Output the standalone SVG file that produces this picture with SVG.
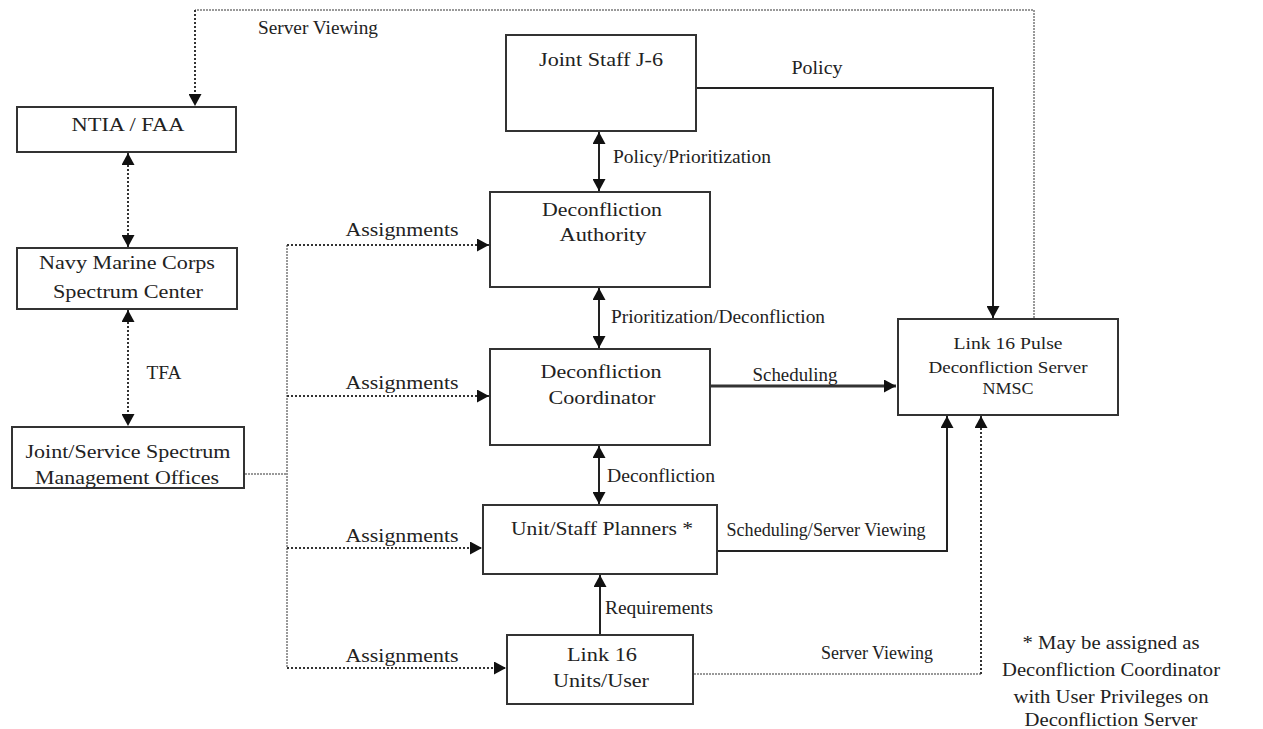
<svg xmlns="http://www.w3.org/2000/svg" width="1263" height="729" viewBox="0 0 1263 729">
<style>
text{font-family:"Liberation Serif","Times New Roman",serif;font-size:18px;fill:#222;text-anchor:middle}
.sm{font-size:16px}
.box{fill:#fff;stroke:#333;stroke-width:2}
.solid{fill:none;stroke:#222;stroke-width:2}
.thick{fill:none;stroke:#333;stroke-width:3}
.dot{fill:none;stroke:#333;stroke-width:2;stroke-dasharray:2 2}
.gdot{fill:none;stroke:#999;stroke-width:2;stroke-dasharray:2 1}
</style>
<defs>
<marker id="ah" markerUnits="userSpaceOnUse" markerWidth="13" markerHeight="13" refX="12" refY="6.5" orient="auto-start-reverse" viewBox="0 0 13 13">
<path d="M0,0 L12,6.5 L0,13 z" fill="#111"/>
</marker>
</defs>
<rect width="1263" height="729" fill="#fff"/>

<g id="connectors">
<path class="gdot" d="M1034,318 V10 H195"/>
<path class="dot" d="M195,10 V106" marker-end="url(#ah)"/>
<text x="318" y="34" textLength="120" lengthAdjust="spacingAndGlyphs">Server Viewing</text>
<path class="dot" d="M128,153 V247" marker-start="url(#ah)" marker-end="url(#ah)"/>
<path class="dot" d="M128,310 V426" marker-start="url(#ah)" marker-end="url(#ah)"/>
<text x="164" y="379" textLength="35" lengthAdjust="spacingAndGlyphs">TFA</text>
<path class="gdot" d="M245,474 H287"/>
<path class="gdot" d="M287,245 V668"/>
<path class="dot" d="M287,245 H489" marker-end="url(#ah)"/>
<path class="dot" d="M287,396 H489" marker-end="url(#ah)"/>
<path class="dot" d="M287,548 H482" marker-end="url(#ah)"/>
<path class="dot" d="M287,668 H506" marker-end="url(#ah)"/>
<text x="402" y="236" textLength="113" lengthAdjust="spacingAndGlyphs">Assignments</text>
<text x="402" y="389" textLength="113" lengthAdjust="spacingAndGlyphs">Assignments</text>
<text x="402" y="542" textLength="113" lengthAdjust="spacingAndGlyphs">Assignments</text>
<text x="402" y="662" textLength="113" lengthAdjust="spacingAndGlyphs">Assignments</text>
<path class="solid" d="M697,88 H993 V318" marker-end="url(#ah)"/>
<text x="817" y="74" textLength="51" lengthAdjust="spacingAndGlyphs">Policy</text>
<path class="solid" d="M599,132 V191" marker-start="url(#ah)" marker-end="url(#ah)"/>
<text x="692" y="163" textLength="158" lengthAdjust="spacingAndGlyphs">Policy/Prioritization</text>
<path class="solid" d="M599,288 V348" marker-start="url(#ah)" marker-end="url(#ah)"/>
<text x="718" y="323" textLength="214" lengthAdjust="spacingAndGlyphs">Prioritization/Deconfliction</text>
<path class="thick" d="M711,386 H896" marker-end="url(#ah)"/>
<text x="795" y="381" textLength="85" lengthAdjust="spacingAndGlyphs">Scheduling</text>
<path class="solid" d="M599,446 V504" marker-start="url(#ah)" marker-end="url(#ah)"/>
<text x="661" y="482" textLength="108" lengthAdjust="spacingAndGlyphs">Deconfliction</text>
<path class="solid" d="M600,634 V575" marker-end="url(#ah)"/>
<text x="659" y="614" textLength="108" lengthAdjust="spacingAndGlyphs">Requirements</text>
<path class="solid" d="M718,551 H947 V416" marker-end="url(#ah)"/>
<text x="826" y="536" textLength="199" lengthAdjust="spacingAndGlyphs">Scheduling/Server Viewing</text>
<path class="gdot" d="M694,674 H981"/>
<path class="dot" d="M981,674 V416" marker-end="url(#ah)"/>
<text x="877" y="659" textLength="112" lengthAdjust="spacingAndGlyphs">Server Viewing</text>
</g>

<g id="ntia">
<rect class="box" x="17" y="107" width="219" height="45"/>
<text x="128" y="131" textLength="113" lengthAdjust="spacingAndGlyphs">NTIA / FAA</text>
</g>
<g id="nmsc">
<rect class="box" x="17" y="248" width="220" height="61"/>
<text x="127" y="269" textLength="176" lengthAdjust="spacingAndGlyphs">Navy Marine Corps</text>
<text x="128" y="298" textLength="150" lengthAdjust="spacingAndGlyphs">Spectrum Center</text>
</g>
<g id="jsmo">
<rect class="box" x="12" y="427" width="232" height="61"/>
<text x="128" y="458" textLength="205" lengthAdjust="spacingAndGlyphs">Joint/Service Spectrum</text>
<text x="127" y="484" textLength="184" lengthAdjust="spacingAndGlyphs">Management Offices</text>
</g>
<g id="j6">
<rect class="box" x="506" y="35" width="190" height="96"/>
<text x="601" y="66" textLength="124" lengthAdjust="spacingAndGlyphs">Joint Staff J-6</text>
</g>
<g id="da">
<rect class="box" x="490" y="192" width="220" height="95"/>
<text x="602" y="216" textLength="120" lengthAdjust="spacingAndGlyphs">Deconfliction</text>
<text x="603" y="241" textLength="87" lengthAdjust="spacingAndGlyphs">Authority</text>
</g>
<g id="dc">
<rect class="box" x="490" y="349" width="220" height="96"/>
<text x="601" y="378" textLength="121" lengthAdjust="spacingAndGlyphs">Deconfliction</text>
<text x="602" y="404" textLength="107" lengthAdjust="spacingAndGlyphs">Coordinator</text>
</g>
<g id="usp">
<rect class="box" x="483" y="505" width="234" height="69"/>
<text x="602" y="535" textLength="182" lengthAdjust="spacingAndGlyphs">Unit/Staff Planners *</text>
</g>
<g id="l16">
<rect class="box" x="507" y="635" width="186" height="69"/>
<text x="602" y="661" textLength="70" lengthAdjust="spacingAndGlyphs">Link 16</text>
<text x="601" y="687" textLength="96" lengthAdjust="spacingAndGlyphs">Units/User</text>
</g>
<g id="server">
<rect class="box" x="898" y="319" width="220" height="96"/>
<text class="sm" x="1008" y="349" textLength="109" lengthAdjust="spacingAndGlyphs">Link 16 Pulse</text>
<text class="sm" x="1008" y="373" textLength="159" lengthAdjust="spacingAndGlyphs">Deconfliction Server</text>
<text class="sm" x="1008" y="394" textLength="51" lengthAdjust="spacingAndGlyphs">NMSC</text>
</g>
<g id="footnote">
<text x="1111" y="649" textLength="177" lengthAdjust="spacingAndGlyphs">* May be assigned as</text>
<text x="1111" y="676" textLength="218" lengthAdjust="spacingAndGlyphs">Deconfliction Coordinator</text>
<text x="1111" y="703" textLength="195" lengthAdjust="spacingAndGlyphs">with User Privileges on</text>
<text x="1111" y="726" textLength="173" lengthAdjust="spacingAndGlyphs">Deconfliction Server</text>
</g>
</svg>
